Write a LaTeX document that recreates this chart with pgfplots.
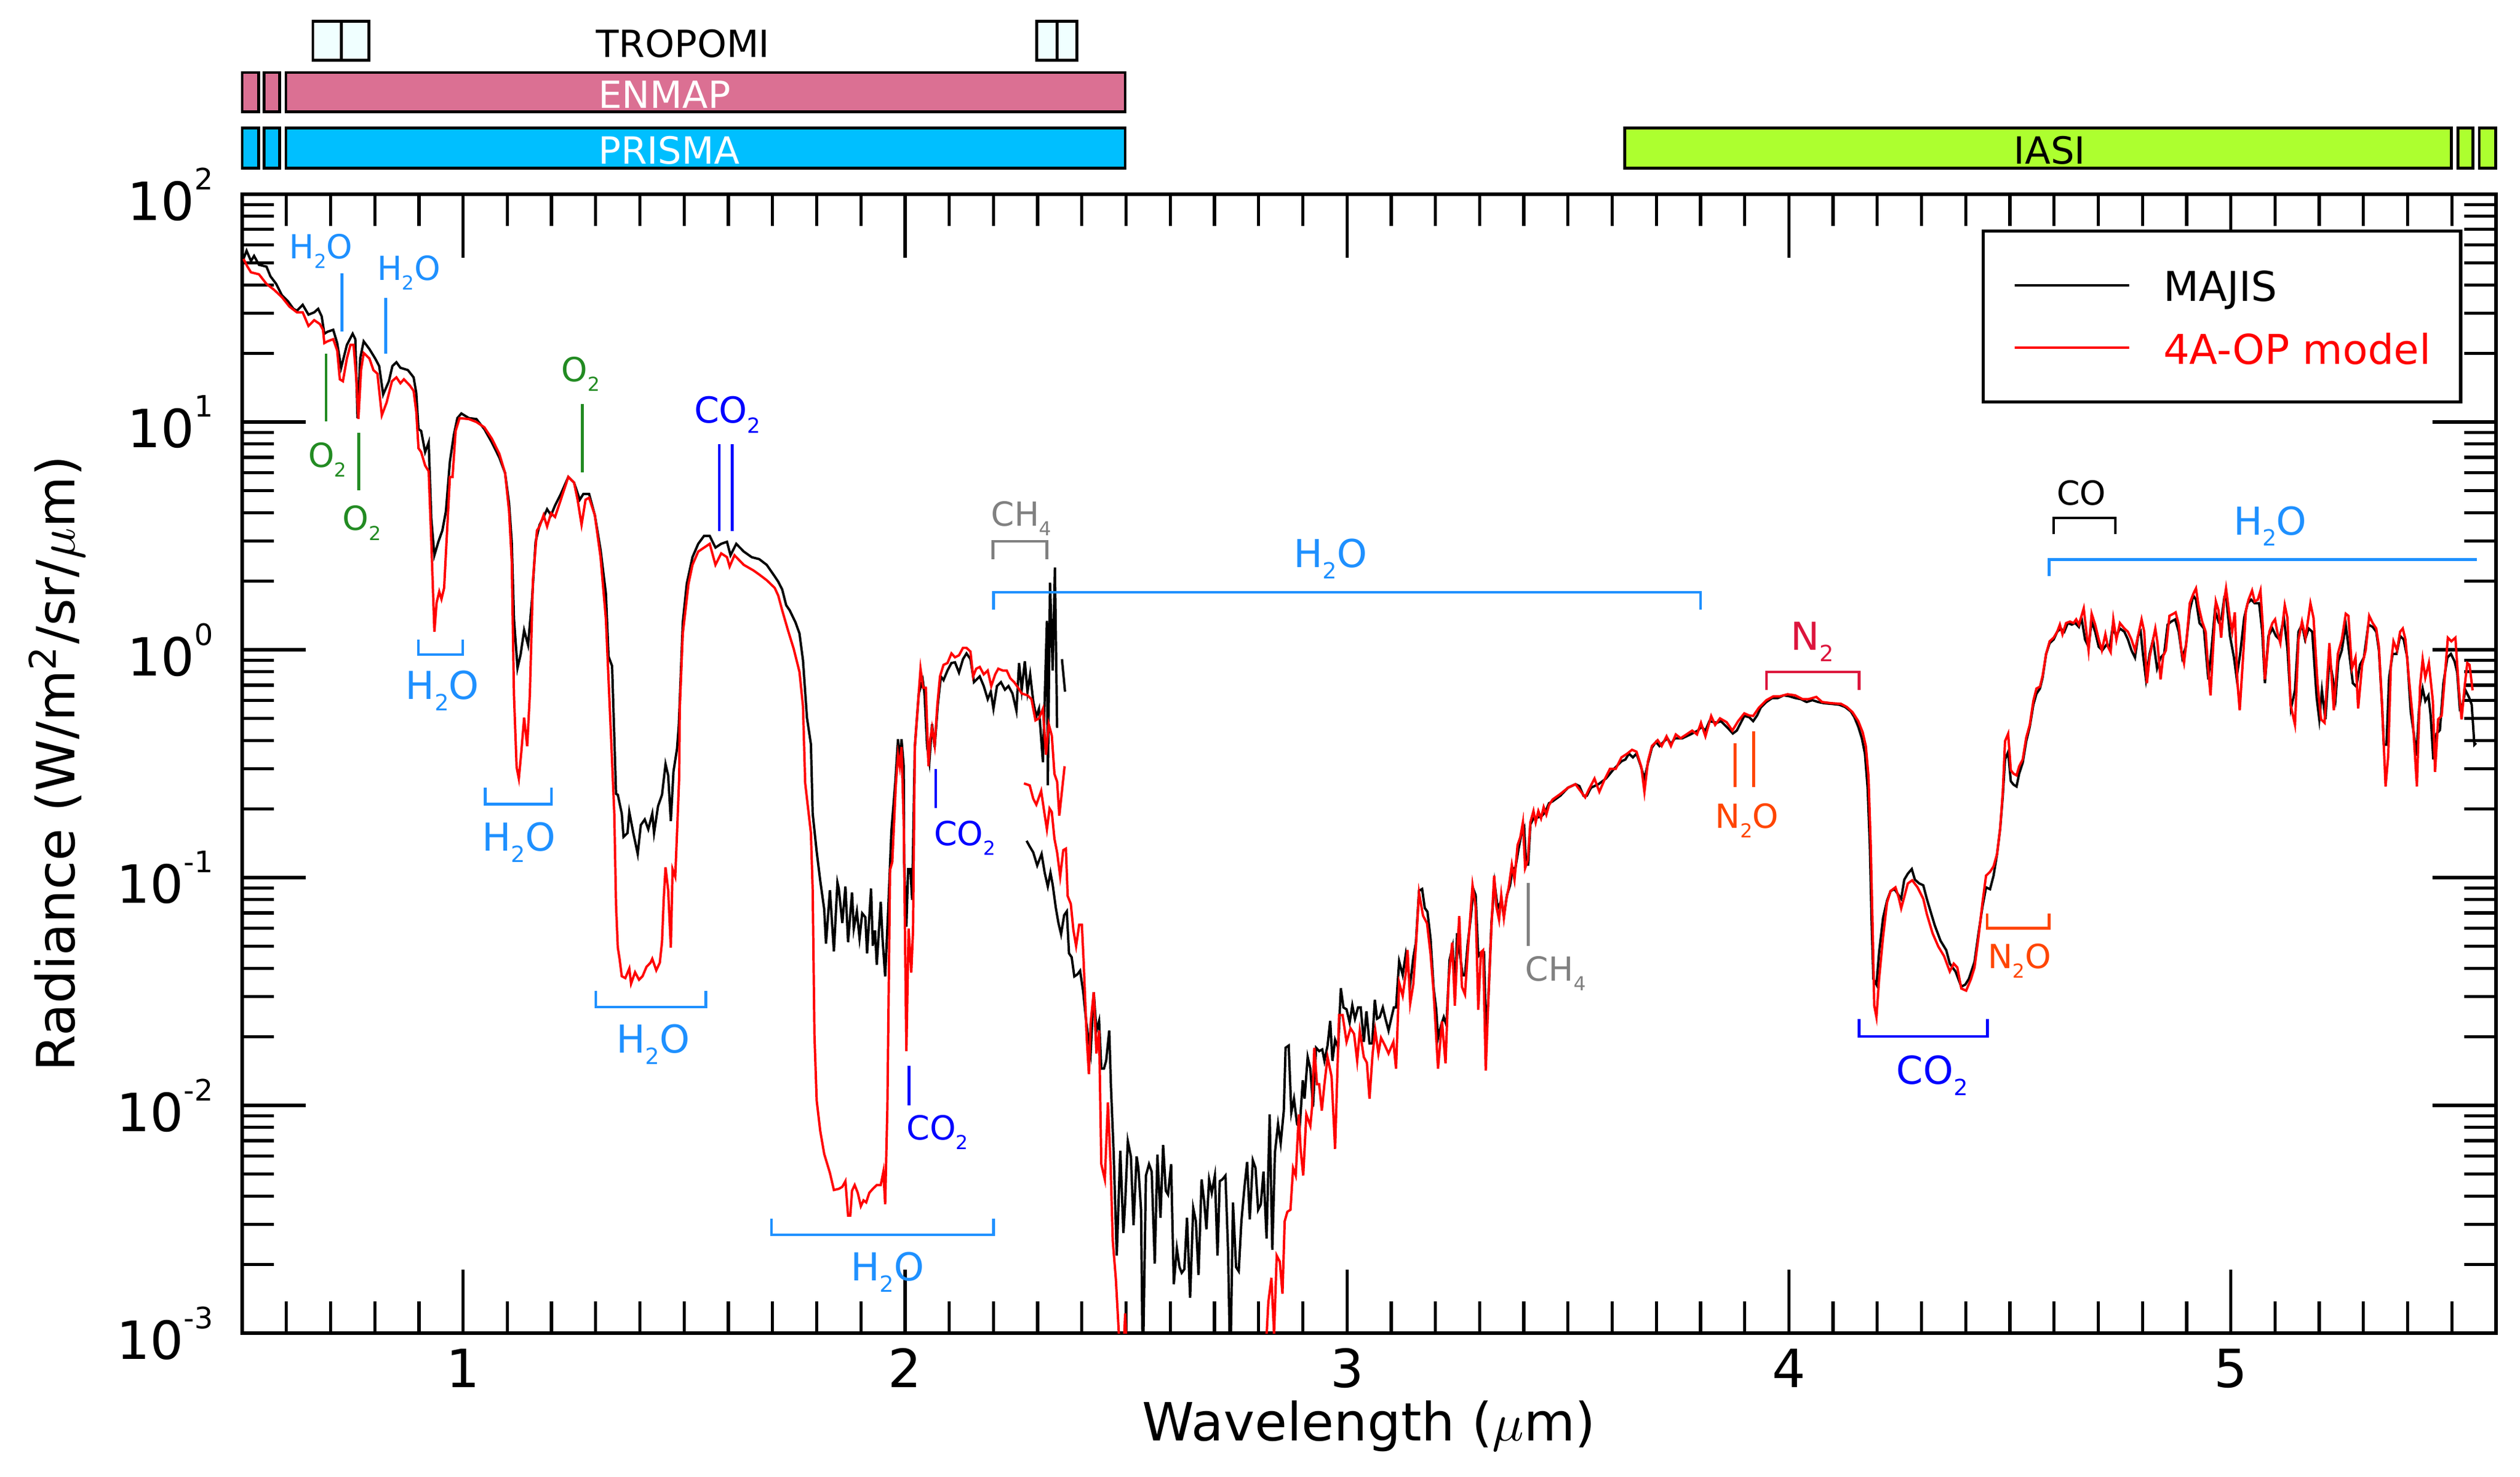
\documentclass[border=0pt]{standalone}
\usepackage{pgfplots}
\pgfplotsset{compat=1.18}
\usepackage{graphicx}
\usepackage{fontspec}
\setmainfont{DejaVu Sans}
\definecolor{h2o}{RGB}{30,144,255}
\definecolor{o2}{RGB}{34,139,34}
\definecolor{co2}{RGB}{0,0,255}
\definecolor{ch4}{RGB}{128,128,128}
\definecolor{n2o}{RGB}{255,69,0}
\definecolor{n2}{RGB}{220,20,60}
\definecolor{enmap}{RGB}{219,112,147}
\definecolor{prisma}{RGB}{0,191,255}
\definecolor{iasi}{RGB}{173,255,47}
\definecolor{tropomi}{RGB}{240,255,255}
\newcommand{\fs}{\fontsize{6.3}{7}\selectfont}
\newcommand{\fm}{\fontsize{6.8}{7.5}\selectfont}
\newcommand{\fl}{\fontsize{7.3}{8}\selectfont}
\newcommand{\sub}[1]{\raisebox{-0.29em}{\scalebox{0.58}{#1}}}
\newcommand{\tp}[1]{10\raisebox{5.8pt}{\fontsize{5.6}{6}\selectfont#1}}
\begin{document}
\begin{tikzpicture}
\begin{axis}[
  at={(0,0)}, anchor=south west,
  scale only axis, width=15.04cm, height=7.6cm,
  xmin=0.5, xmax=5.6, ymode=log, ymin=1e-3, ymax=1e2,
  unbounded coords=jump,
  xtick={1,2,3,4,5}, xticklabels={1,2,3,4,5},
  minor xtick={0.6,0.7,0.8,0.9,1.1,1.2,1.3,1.4,1.5,1.6,1.7,1.8,1.9,2.1,2.2,2.3,2.4,2.5,2.6,2.7,2.8,2.9,3.1,3.2,3.3,3.4,3.5,3.6,3.7,3.8,3.9,4.1,4.2,4.3,4.4,4.5,4.6,4.7,4.8,4.9,5.1,5.2,5.3,5.4,5.5},
  ytick={1e-3,1e-2,1e-1,1,10,100},
  yticklabels={\tp{-3},\tp{-2},\tp{-1},\tp{0},\tp{1},\tp{2}},
  tick align=inside,
  major tick length=0.424cm, minor tick length=0.212cm,
  every tick/.style={line width=0.6pt, black},
  axis line style={line width=0.7pt},
  tick label style={font=\fontsize{10}{12}\selectfont},
  xticklabel style={anchor=base, yshift=-0.36cm},
  yticklabel style={xshift=-0.07cm},
  xlabel={Wavelength ($\mu$m)},
  ylabel={Radiance (W/m\textsuperscript{2}/sr/$\mu$m)},
  label style={font=\fontsize{10}{12}\selectfont},
  every axis x label/.style={at={(axis description cs:0.5,-0.0947)}, anchor=base},
  every axis y label/.style={at={(axis description cs:-0.0742,0.5)}, rotate=90, anchor=base},
  legend style={at={(axis description cs:0.7718,0.9689)}, anchor=north west, draw=black, line width=0.6pt, fill=white,
    inner xsep=0.2cm, inner ysep=0.226cm, row sep=0.146cm, column sep=0.22cm,
    font=\fontsize{7.8}{9}\selectfont,
    nodes={inner sep=0pt, text height=6.9pt, text depth=0.8pt}},
  legend cell align=left,
  legend image code/.code={\draw[#1, line width=0.5pt] (0cm,0cm) -- (0.764cm,0cm);},
  after end axis/.code={
    % instrument bars
    \draw[fill=tropomi, line width=0.55pt] (axis cs:0.660,388) rectangle (axis cs:0.724,573);
    \draw[fill=tropomi, line width=0.55pt] (axis cs:0.724,388) rectangle (axis cs:0.787,573);
    \draw[fill=tropomi, line width=0.55pt] (axis cs:2.298,388) rectangle (axis cs:2.344,573);
    \draw[fill=tropomi, line width=0.55pt] (axis cs:2.344,388) rectangle (axis cs:2.389,573);
    \node[anchor=base west, inner sep=0pt, font=\fontsize{7.1}{8}\selectfont] at (axis cs:1.299,399) {TROPOMI};
    \draw[fill=enmap, line width=0.55pt] (axis cs:0.500,230) rectangle (axis cs:0.537,342);
    \draw[fill=enmap, line width=0.55pt] (axis cs:0.550,230) rectangle (axis cs:0.585,342);
    \draw[fill=enmap, line width=0.55pt] (axis cs:0.599,230) rectangle (axis cs:2.498,342);
    \node[anchor=base west, inner sep=0pt, text=white, font=\fontsize{7.1}{8}\selectfont] at (axis cs:1.304,238.3) {ENMAP};
    \draw[fill=prisma, line width=0.55pt] (axis cs:0.500,130) rectangle (axis cs:0.537,195);
    \draw[fill=prisma, line width=0.55pt] (axis cs:0.550,130) rectangle (axis cs:0.585,195);
    \draw[fill=prisma, line width=0.55pt] (axis cs:0.599,130) rectangle (axis cs:2.498,195);
    \node[anchor=base west, inner sep=0pt, text=white, font=\fontsize{7.1}{8}\selectfont] at (axis cs:1.304,136.2) {PRISMA};
    \draw[fill=iasi, line width=0.55pt] (axis cs:3.629,130) rectangle (axis cs:5.499,195);
    \draw[fill=iasi, line width=0.55pt] (axis cs:5.514,130) rectangle (axis cs:5.548,195);
    \draw[fill=iasi, line width=0.55pt] (axis cs:5.562,130) rectangle (axis cs:5.599,195);
    \node[anchor=base west, inner sep=0pt, font=\fontsize{7.1}{8}\selectfont] at (axis cs:4.507,136.2) {IASI};
    % molecule annotations
    \begin{scope}[line width=0.5pt]
    \node[anchor=base, inner sep=0pt, text=h2o, font=\fs] at (axis cs:0.678,52.0) {H\sub{2}O};
    \draw[h2o] (axis cs:0.726,44.9) -- (axis cs:0.726,24.9);
    \node[anchor=base, inner sep=0pt, text=h2o, font=\fs] at (axis cs:0.877,42.0) {H\sub{2}O};
    \draw[h2o] (axis cs:0.825,35.0) -- (axis cs:0.825,19.9);
    \draw[o2] (axis cs:0.690,19.9) -- (axis cs:0.690,10.05);
    \node[anchor=base, inner sep=0pt, text=o2, font=\fs] at (axis cs:0.693,6.32) {O\sub{2}};
    \draw[o2] (axis cs:0.764,8.95) -- (axis cs:0.764,5.01);
    \node[anchor=base, inner sep=0pt, text=o2, font=\fs] at (axis cs:0.771,3.34) {O\sub{2}};
    \draw[o2] (axis cs:1.270,11.97) -- (axis cs:1.270,6.01);
    \node[anchor=base, inner sep=0pt, text=o2, font=\fs] at (axis cs:1.266,15.1) {O\sub{2}};
    \draw[co2] (axis cs:1.580,7.98) -- (axis cs:1.580,3.32);
    \draw[co2] (axis cs:1.609,7.98) -- (axis cs:1.609,3.32);
    \node[anchor=base, inner sep=0pt, text=co2, font=\fm] at (axis cs:1.598,9.93) {CO\sub{2}};
    \draw[h2o] (axis cs:0.899,1.11) -- (axis cs:0.899,0.953) -- (axis cs:0.999,0.953) -- (axis cs:0.999,1.11);
    \node[anchor=base, inner sep=0pt, text=h2o, font=\fl] at (axis cs:0.953,0.607) {H\sub{2}O};
    \draw[h2o] (axis cs:1.050,0.248) -- (axis cs:1.050,0.210) -- (axis cs:1.200,0.210) -- (axis cs:1.200,0.248);
    \node[anchor=base, inner sep=0pt, text=h2o, font=\fl] at (axis cs:1.126,0.131) {H\sub{2}O};
    \draw[h2o] (axis cs:1.300,0.0319) -- (axis cs:1.300,0.0270) -- (axis cs:1.549,0.0270) -- (axis cs:1.549,0.0319);
    \node[anchor=base, inner sep=0pt, text=h2o, font=\fl] at (axis cs:1.430,0.0170) {H\sub{2}O};
    \draw[h2o] (axis cs:1.698,0.00318) -- (axis cs:1.698,0.00270) -- (axis cs:2.200,0.00270) -- (axis cs:2.200,0.00318);
    \node[anchor=base, inner sep=0pt, text=h2o, font=\fl] at (axis cs:1.960,0.00170) {H\sub{2}O};
    \draw[co2] (axis cs:2.009,0.01493) -- (axis cs:2.009,0.00998);
    \node[anchor=base, inner sep=0pt, text=co2, font=\fs] at (axis cs:2.073,0.00705) {CO\sub{2}};
    \draw[co2] (axis cs:2.069,0.299) -- (axis cs:2.069,0.202);
    \node[anchor=base, inner sep=0pt, text=co2, font=\fs] at (axis cs:2.135,0.138) {CO\sub{2}};
    \draw[ch4] (axis cs:2.199,2.50) -- (axis cs:2.199,2.99) -- (axis cs:2.321,2.99) -- (axis cs:2.321,2.50);
    \node[anchor=base, inner sep=0pt, text=ch4, font=\fs] at (axis cs:2.263,3.49) {CH\sub{4}};
    \draw[h2o] (axis cs:2.200,1.50) -- (axis cs:2.200,1.79) -- (axis cs:3.800,1.79) -- (axis cs:3.800,1.50);
    \node[anchor=base, inner sep=0pt, text=h2o, font=\fl] at (axis cs:2.963,2.30) {H\sub{2}O};
    \draw[ch4] (axis cs:3.410,0.0948) -- (axis cs:3.410,0.0502);
    \node[anchor=base, inner sep=0pt, text=ch4, font=\fs] at (axis cs:3.472,0.0352) {CH\sub{4}};
    \draw[n2o] (axis cs:3.878,0.389) -- (axis cs:3.878,0.249);
    \draw[n2o] (axis cs:3.920,0.438) -- (axis cs:3.920,0.249);
    \node[anchor=base, inner sep=0pt, text=n2o, font=\fs] at (axis cs:3.905,0.165) {N\sub{2}O};
    \draw[n2] (axis cs:3.949,0.668) -- (axis cs:3.949,0.798) -- (axis cs:4.159,0.798) -- (axis cs:4.159,0.668);
    \node[anchor=base, inner sep=0pt, text=n2, font=\fl] at (axis cs:4.053,0.995) {N\sub{2}};
    \draw[co2] (axis cs:4.159,0.0239) -- (axis cs:4.159,0.0201) -- (axis cs:4.449,0.0201) -- (axis cs:4.449,0.0239);
    \node[anchor=base, inner sep=0pt, text=co2, font=\fl] at (axis cs:4.324,0.0124) {CO\sub{2}};
    \draw[n2o] (axis cs:4.448,0.0695) -- (axis cs:4.448,0.0600) -- (axis cs:4.589,0.0600) -- (axis cs:4.589,0.0695);
    \node[anchor=base, inner sep=0pt, text=n2o, font=\fs] at (axis cs:4.522,0.0400) {N\sub{2}O};
    \draw[black] (axis cs:4.599,3.22) -- (axis cs:4.599,3.80) -- (axis cs:4.739,3.80) -- (axis cs:4.739,3.22);
    \node[anchor=base, inner sep=0pt, text=black, font=\fs] at (axis cs:4.662,4.33) {CO};
    \draw[h2o] (axis cs:4.589,2.11) -- (axis cs:4.589,2.49) -- (axis cs:5.557,2.49);
    \node[anchor=base, inner sep=0pt, text=h2o, font=\fl] at (axis cs:5.089,3.20) {H\sub{2}O};
    \end{scope}
  },
]
% MAJIS VIS-NIR channel
\addplot[black, line width=0.45pt] coordinates {
(0.503,52.0)(0.510,56.5)(0.520,50.9)(0.527,53.6)(0.538,49.0)(0.555,48.1)(0.564,43.6)(0.577,40.4)(0.590,36.0)(0.603,34.0)(0.616,31.4)(0.624,30.8)(0.637,32.7)(0.650,29.6)(0.663,30.3)(0.672,31.4)(0.680,29.1)(0.686,24.4)(0.693,24.9)(0.706,25.4)(0.715,22.2)(0.724,17.3)(0.737,21.8)(0.750,24.4)(0.756,23.1)(0.761,10.4)(0.767,19.0)(0.775,22.6)(0.788,20.9)(0.801,19.0)(0.810,17.6)(0.819,13.2)(0.832,15.1)(0.840,17.6)(0.849,18.3)(0.858,17.3)(0.875,16.9)(0.888,15.7)(0.894,13.4)(0.899,9.31)(0.905,9.14)(0.914,7.38)(0.922,8.13)(0.928,3.76)(0.935,2.60)(0.944,2.98)(0.953,3.34)(0.961,4.06)(0.970,6.70)(0.979,8.79)(0.987,10.4)(0.996,10.9)(1.013,10.4)(1.030,10.3)(1.048,9.31)(1.065,8.13)(1.082,6.97)(1.095,5.97)(1.104,4.39)(1.110,2.98)(1.115,1.37)(1.123,0.832)(1.130,0.953)(1.138,1.22)(1.147,1.05)(1.156,1.67)(1.164,2.98)(1.173,3.54)(1.182,3.83)(1.190,4.14)(1.199,3.90)(1.208,4.30)(1.221,4.83)(1.238,5.74)(1.251,5.42)(1.264,4.56)(1.272,4.83)(1.285,4.83)(1.298,3.90)(1.311,2.75)(1.323,1.77)(1.329,0.935)(1.337,0.849)(1.346,0.233)(1.350,0.231)(1.359,0.191)(1.363,0.151)(1.372,0.157)(1.376,0.194)(1.385,0.157)(1.395,0.127)(1.402,0.170)(1.411,0.180)(1.419,0.163)(1.428,0.191)(1.432,0.157)(1.441,0.206)(1.450,0.231)(1.458,0.315)(1.464,0.281)(1.470,0.177)(1.476,0.292)(1.484,0.368)(1.488,0.467)(1.497,1.32)(1.506,1.95)(1.519,2.55)(1.532,2.92)(1.545,3.16)(1.558,3.16)(1.571,2.81)(1.584,2.92)(1.597,2.98)(1.605,2.60)(1.618,2.92)(1.635,2.70)(1.653,2.55)(1.670,2.50)(1.687,2.36)(1.705,2.10)(1.713,1.99)(1.722,1.84)(1.731,1.57)(1.739,1.49)(1.752,1.32)(1.761,1.18)(1.769,0.899)(1.778,0.504)(1.787,0.385)(1.791,0.191)(1.800,0.130)(1.808,0.0970)(1.817,0.0726)(1.821,0.0513)(1.830,0.0881)(1.839,0.0474)(1.847,0.0951)(1.850,0.0895)(1.858,0.0632)(1.865,0.0914)(1.871,0.0521)(1.880,0.0861)(1.884,0.0597)(1.891,0.0711)(1.897,0.0542)(1.903,0.0697)(1.910,0.0670)(1.914,0.0465)(1.923,0.0895)(1.927,0.0502)(1.932,0.0586)(1.936,0.0414)(1.945,0.0783)(1.949,0.0542)(1.955,0.0368)(1.962,0.0738)(1.969,0.160)(1.978,0.264)(1.984,0.405)(1.988,0.321)(1.992,0.405)(1.997,0.308)(1.998,0.117)(2.003,0.0608)(2.007,0.109)(2.012,0.109)(2.016,0.0798)(2.022,0.374)(2.031,0.643)(2.040,0.736)(2.044,0.643)(2.050,0.374)(2.055,0.321)(2.061,0.472)(2.067,0.374)(2.074,0.573)(2.081,0.764)(2.087,0.736)(2.096,0.811)(2.105,0.875)(2.113,0.881)(2.122,0.794)(2.131,0.910)(2.139,0.964)(2.148,0.910)(2.156,0.721)(2.169,0.764)(2.178,0.693)(2.187,0.607)(2.194,0.655)(2.200,0.551)(2.208,0.693)(2.217,0.721)(2.226,0.668)(2.234,0.693)(2.243,0.643)(2.252,0.540)(2.258,0.875)(2.264,0.668)(2.271,0.891)(2.277,0.655)(2.283,0.780)(2.290,0.594)(2.297,0.509)(2.303,0.551)(2.312,0.321)(2.321,1.34)(2.323,0.254)(2.328,1.97)(2.334,0.811)(2.339,2.30)(2.344,0.454)(2.350,nan)(2.355,0.910)(2.362,0.655)
};
\addlegendentry{MAJIS}
% model, VIS-NIR
\addplot[red, line width=0.45pt] coordinates {
(0.503,52.0)(0.512,48.1)(0.520,45.4)(0.538,44.5)(0.555,40.4)(0.572,38.1)(0.590,35.3)(0.607,32.1)(0.624,30.3)(0.637,30.3)(0.650,26.4)(0.663,28.0)(0.676,26.9)(0.683,25.4)(0.686,22.2)(0.693,22.6)(0.706,23.1)(0.715,20.6)(0.721,15.4)(0.728,15.1)(0.737,19.0)(0.745,21.8)(0.752,21.8)(0.758,15.7)(0.763,10.3)(0.769,16.9)(0.775,20.1)(0.788,19.0)(0.797,16.9)(0.806,16.3)(0.816,10.7)(0.827,12.2)(0.839,15.1)(0.849,15.7)(0.858,14.8)(0.866,15.4)(0.879,14.5)(0.888,13.7)(0.894,11.1)(0.899,7.67)(0.905,7.38)(0.914,6.44)(0.922,6.08)(0.928,2.98)(0.935,1.20)(0.940,1.61)(0.946,1.80)(0.951,1.67)(0.957,1.87)(0.961,2.65)(0.970,5.74)(0.976,5.74)(0.983,9.14)(0.992,10.4)(1.013,10.3)(1.030,10.0)(1.048,9.48)(1.065,8.45)(1.082,7.24)(1.095,5.97)(1.104,4.06)(1.110,2.45)(1.115,0.635)(1.121,0.305)(1.126,0.272)(1.132,0.363)(1.138,0.504)(1.145,0.377)(1.151,0.635)(1.158,2.02)(1.167,3.34)(1.173,3.48)(1.182,3.90)(1.190,3.48)(1.199,3.98)(1.208,3.83)(1.221,4.56)(1.238,5.74)(1.251,5.42)(1.259,4.56)(1.268,3.54)(1.277,4.56)(1.285,4.65)(1.298,3.90)(1.311,2.55)(1.323,1.37)(1.329,0.741)(1.335,0.399)(1.342,0.191)(1.346,0.0755)(1.350,0.0493)(1.354,0.0440)(1.359,0.0369)(1.367,0.0362)(1.376,0.0399)(1.380,0.0342)(1.389,0.0384)(1.398,0.0356)(1.406,0.0369)(1.415,0.0406)(1.424,0.0423)(1.428,0.0440)(1.437,0.0392)(1.445,0.0423)(1.450,0.0522)(1.454,0.0815)(1.458,0.111)(1.464,0.0881)(1.470,0.0493)(1.474,0.109)(1.480,0.101)(1.484,0.157)(1.489,0.281)(1.490,0.544)(1.497,1.18)(1.510,1.95)(1.519,2.36)(1.532,2.70)(1.558,2.92)(1.571,2.36)(1.584,2.65)(1.597,2.55)(1.603,2.32)(1.614,2.60)(1.635,2.36)(1.657,2.23)(1.670,2.14)(1.687,2.02)(1.705,1.87)(1.713,1.73)(1.722,1.49)(1.735,1.22)(1.748,1.01)(1.761,0.800)(1.769,0.565)(1.774,0.260)(1.787,0.157)(1.791,0.0881)(1.795,0.0203)(1.800,0.0105)(1.808,0.00773)(1.817,0.00612)(1.830,0.00505)(1.839,0.00425)(1.850,0.00430)(1.858,0.00439)(1.865,0.00465)(1.871,0.00328)(1.876,0.00328)(1.880,0.00422)(1.886,0.00447)(1.893,0.00413)(1.900,0.00361)(1.906,0.00383)(1.912,0.00375)(1.919,0.00413)(1.927,0.00430)(1.936,0.00447)(1.945,0.00447)(1.951,0.00512)(1.955,0.00368)(1.960,0.00986)(1.966,0.108)(1.971,0.117)(1.979,0.254)(1.984,0.346)(1.988,0.308)(1.992,0.374)(1.997,0.173)(2.003,0.0173)(2.008,0.0597)(2.014,0.0383)(2.018,0.0586)(2.022,0.374)(2.035,0.826)(2.041,0.681)(2.047,0.681)(2.053,0.308)(2.057,0.405)(2.061,0.454)(2.067,0.381)(2.073,0.573)(2.079,0.764)(2.087,0.859)(2.096,0.875)(2.105,0.964)(2.113,0.927)(2.122,0.946)(2.131,1.02)(2.139,1.02)(2.148,0.982)(2.154,0.764)(2.161,0.826)(2.169,0.841)(2.178,0.780)(2.187,0.811)(2.195,0.693)(2.204,0.780)(2.211,0.826)(2.221,0.811)(2.230,0.811)(2.238,0.750)(2.247,0.721)(2.256,0.681)(2.264,0.643)(2.277,0.631)(2.286,0.607)(2.295,0.490)(2.303,0.500)(2.312,0.551)(2.319,0.346)(2.325,0.472)(2.332,0.420)(2.338,0.285)(2.344,0.264)(2.349,0.187)(2.361,0.308)
};
\addlegendentry{\textcolor{red}{4A-OP model}}
% MAJIS IR channel
\addplot[black, line width=0.45pt, forget plot] coordinates {
(2.275,0.145)(2.282,0.137)(2.290,0.129)(2.299,0.113)(2.309,0.127)(2.316,0.105)(2.323,0.0914)(2.329,0.105)(2.334,0.0931)(2.341,0.0738)(2.347,0.0632)(2.353,0.0564)(2.360,0.0684)(2.366,0.0711)(2.371,0.0465)(2.377,0.0447)(2.383,0.0368)(2.390,0.0376)(2.396,0.0390)(2.403,0.0316)(2.410,0.0232)(2.416,0.0191)(2.420,0.0170)(2.427,0.0314)(2.433,0.0213)(2.439,0.0235)(2.444,0.0145)(2.450,0.0145)(2.455,0.0157)(2.462,0.0213)(2.466,0.0120)(2.472,0.00621)(2.479,0.00219)(2.487,0.00632)(2.494,0.00275)(2.498,0.00375)(2.504,0.00697)(2.511,0.00597)(2.517,0.00298)(2.524,0.00597)(2.528,0.00531)(2.534,0.00348)(2.538,0.00066)(2.545,0.00492)(2.552,0.00552)(2.558,0.00512)(2.565,0.00202)(2.571,0.00608)(2.578,0.00321)(2.584,0.00670)(2.590,0.00422)(2.595,0.00406)(2.602,0.00552)(2.608,0.00164)(2.615,0.00236)(2.621,0.00195)(2.626,0.00184)(2.632,0.00191)(2.638,0.00321)(2.645,0.00143)(2.652,0.00354)(2.658,0.00310)(2.664,0.00180)(2.671,0.00473)(2.677,0.00375)(2.682,0.00286)(2.688,0.00473)(2.694,0.00413)(2.701,0.00492)(2.707,0.00219)(2.712,0.00465)(2.718,0.00473)(2.725,0.00492)(2.731,0.00227)(2.736,0.00066)(2.742,0.00375)(2.749,0.00195)(2.755,0.00187)(2.761,0.00310)(2.768,0.00439)(2.774,0.00564)(2.780,0.00316)(2.787,0.00574)(2.793,0.00531)(2.799,0.00348)(2.805,0.00368)(2.811,0.00512)(2.818,0.00260)(2.825,0.00912)(2.831,0.00232)(2.837,0.00621)(2.844,0.00828)(2.850,0.00682)(2.857,0.00948)(2.861,0.0179)(2.868,0.0183)(2.874,0.00931)(2.880,0.0107)(2.887,0.00828)(2.893,0.00798)(2.900,0.0129)(2.904,0.0107)(2.911,0.0163)(2.917,0.0145)(2.923,0.00986)(2.930,0.0179)(2.937,0.0173)(2.944,0.0176)(2.949,0.0157)(2.956,0.0183)(2.962,0.0235)(2.967,0.0157)(2.973,0.0194)(2.980,0.0179)(2.986,0.0327)(2.992,0.0269)(2.999,0.0264)(3.006,0.0231)(3.012,0.0275)(3.018,0.0240)(3.025,0.0269)(3.031,0.0269)(3.038,0.0190)(3.044,0.0259)(3.051,0.0187)(3.057,0.0187)(3.063,0.0291)(3.068,0.0240)(3.074,0.0244)(3.081,0.0269)(3.087,0.0240)(3.094,0.0213)(3.100,0.0240)(3.106,0.0269)(3.111,0.0269)(3.118,0.0429)(3.126,0.0374)(3.133,0.0462)(3.137,0.0412)(3.143,0.0340)(3.150,0.0445)(3.156,0.0519)(3.163,0.0875)(3.170,0.0891)(3.176,0.0735)(3.182,0.0708)(3.189,0.0540)(3.196,0.0327)(3.202,0.0263)(3.206,0.0197)(3.213,0.0225)(3.219,0.0244)(3.225,0.0225)(3.232,0.0435)(3.239,0.0498)(3.245,0.0326)(3.249,0.0570)(3.256,0.0452)(3.262,0.0372)(3.267,0.0372)(3.273,0.0508)(3.280,0.0665)(3.286,0.0889)(3.291,0.0838)(3.297,0.0452)(3.303,0.0470)(3.310,0.0470)(3.315,0.0201)(3.320,0.0296)(3.327,0.0640)(3.334,0.0942)(3.341,0.0733)(3.349,0.0792)(3.355,0.0678)(3.362,0.0838)(3.369,0.0925)(3.375,0.110)(3.381,0.110)(3.388,0.133)(3.394,0.153)(3.401,0.165)(3.405,0.114)(3.410,0.114)(3.415,0.171)(3.422,0.182)(3.439,0.185)(3.448,0.193)(3.457,0.212)(3.465,0.216)(3.483,0.229)(3.500,0.248)(3.517,0.257)(3.526,0.252)(3.535,0.229)(3.543,0.229)(3.552,0.248)(3.569,0.257)(3.586,0.272)(3.604,0.300)(3.621,0.324)(3.630,0.330)(3.638,0.350)(3.647,0.337)(3.655,0.350)(3.664,0.312)(3.673,0.272)(3.681,0.318)(3.690,0.372)(3.699,0.394)(3.707,0.378)(3.716,0.394)(3.725,0.409)(3.733,0.386)(3.742,0.409)(3.759,0.409)(3.777,0.425)(3.794,0.442)(3.802,0.459)(3.811,0.442)(3.820,0.486)(3.837,0.478)(3.846,0.486)(3.863,0.451)(3.873,0.429)(3.882,0.442)(3.891,0.478)(3.899,0.512)(3.910,0.506)(3.919,0.486)(3.928,0.515)(3.936,0.557)(3.949,0.590)(3.962,0.614)(3.975,0.614)(3.988,0.631)(4.001,0.625)(4.014,0.614)(4.027,0.607)(4.040,0.590)(4.053,0.601)(4.066,0.590)(4.079,0.583)(4.096,0.579)(4.114,0.574)(4.127,0.561)(4.140,0.536)(4.148,0.506)(4.157,0.459)(4.165,0.409)(4.172,0.350)(4.178,0.248)(4.183,0.139)(4.187,0.0640)(4.191,0.0359)(4.198,0.0339)(4.204,0.0470)(4.213,0.0665)(4.222,0.0792)(4.230,0.0873)(4.239,0.0889)(4.248,0.0838)(4.254,0.0807)(4.261,0.0979)(4.269,0.104)(4.278,0.109)(4.285,0.0979)(4.295,0.0942)(4.304,0.0925)(4.312,0.0807)(4.321,0.0705)(4.330,0.0617)(4.343,0.0528)(4.356,0.0480)(4.364,0.0419)(4.377,0.0387)(4.390,0.0332)(4.399,0.0339)(4.407,0.0359)(4.420,0.0427)(4.429,0.0570)(4.438,0.0746)(4.446,0.0906)(4.455,0.0889)(4.463,0.102)(4.471,0.127)(4.478,0.164)(4.484,0.229)(4.489,0.330)(4.496,0.356)(4.502,0.265)(4.508,0.256)(4.515,0.251)(4.521,0.286)(4.529,0.319)(4.537,0.397)(4.545,0.460)(4.553,0.574)(4.560,0.641)(4.568,0.676)(4.574,0.755)(4.582,0.959)(4.590,1.07)(4.599,1.11)(4.607,1.20)(4.615,1.24)(4.623,1.20)(4.631,1.31)(4.640,1.29)(4.648,1.31)(4.656,1.26)(4.662,1.38)(4.670,1.11)(4.678,1.03)(4.685,1.33)(4.693,1.20)(4.701,1.03)(4.709,0.995)(4.718,1.05)(4.726,1.03)(4.732,1.24)(4.741,1.15)(4.749,1.24)(4.759,1.20)(4.767,1.11)(4.775,0.995)(4.783,0.925)(4.790,1.15)(4.796,1.20)(4.801,0.959)(4.808,0.741)(4.816,0.959)(4.824,1.11)(4.833,0.828)(4.841,0.925)(4.849,0.959)(4.857,1.29)(4.865,1.33)(4.874,1.36)(4.882,1.20)(4.890,0.925)(4.898,1.03)(4.907,1.49)(4.915,1.73)(4.921,1.66)(4.929,1.31)(4.939,1.24)(4.949,0.741)(4.956,0.995)(4.964,1.49)(4.972,1.33)(4.979,1.38)(4.985,1.69)(4.990,1.66)(4.998,1.15)(5.007,0.925)(5.013,0.755)(5.021,0.959)(5.030,1.38)(5.038,1.60)(5.046,1.66)(5.054,1.60)(5.064,1.60)(5.071,1.20)(5.077,0.714)(5.085,1.15)(5.094,1.24)(5.102,1.15)(5.110,1.11)(5.120,1.38)(5.128,1.01)(5.136,0.553)(5.145,0.664)(5.153,1.20)(5.161,1.29)(5.168,1.11)(5.176,1.24)(5.184,1.20)(5.194,0.618)(5.200,0.495)(5.206,0.664)(5.214,0.495)(5.223,0.925)(5.231,0.741)(5.237,0.618)(5.243,0.891)(5.251,0.995)(5.260,1.29)(5.268,0.959)(5.276,0.714)(5.284,0.689)(5.292,0.859)(5.301,0.925)(5.311,1.29)(5.321,1.26)(5.329,1.20)(5.335,0.995)(5.342,0.574)(5.346,0.383)(5.352,0.383)(5.358,0.755)(5.366,0.959)(5.375,0.959)(5.383,1.15)(5.391,1.11)(5.399,0.925)(5.407,0.533)(5.414,0.428)(5.420,0.343)(5.426,0.553)(5.434,0.676)(5.440,0.596)(5.447,0.630)(5.452,0.514)(5.458,0.330)(5.465,0.428)(5.473,0.444)(5.481,0.714)(5.490,0.925)(5.498,0.959)(5.506,0.891)(5.512,0.798)(5.518,0.553)(5.524,0.574)(5.531,0.664)(5.539,0.618)(5.545,0.574)(5.551,0.383)(5.555,0.390)
};
% model, IR
\addplot[red, line width=0.45pt, forget plot] coordinates {
(2.269,0.259)(2.282,0.254)(2.290,0.222)(2.297,0.209)(2.308,0.240)(2.315,0.194)(2.321,0.163)(2.327,0.201)(2.332,0.194)(2.338,0.148)(2.344,0.129)(2.351,0.101)(2.358,0.132)(2.364,0.134)(2.368,0.0830)(2.375,0.0767)(2.381,0.0586)(2.387,0.0501)(2.394,0.0621)(2.400,0.0621)(2.404,0.0430)(2.411,0.0199)(2.416,0.0137)(2.420,0.0231)(2.427,0.0314)(2.433,0.0169)(2.439,0.0213)(2.444,0.00552)(2.452,0.00473)(2.459,0.0103)(2.465,0.00552)(2.470,0.00255)(2.477,0.00173)(2.485,0.00090)(2.491,0.0006)(2.498,0.00122)(2.505,0.0006)(2.550,0.0004)(2.650,0.0003)(2.750,0.0003)(2.810,0.0005)(2.822,0.00137)(2.829,0.00175)(2.835,0.00099)(2.841,0.00219)(2.848,0.00206)(2.854,0.00149)(2.859,0.00310)(2.865,0.00341)(2.872,0.00348)(2.878,0.00531)(2.884,0.00492)(2.891,0.00912)(2.895,0.00644)(2.901,0.00492)(2.908,0.00912)(2.917,0.00813)(2.921,0.00986)(2.926,0.0179)(2.932,0.0124)(2.937,0.0124)(2.943,0.00948)(2.949,0.0124)(2.956,0.0163)(2.965,0.0134)(2.973,0.00644)(2.982,0.0249)(2.990,0.0249)(2.999,0.0190)(3.008,0.0218)(3.016,0.0206)(3.023,0.0157)(3.029,0.0213)(3.038,0.0163)(3.045,0.0154)(3.051,0.0107)(3.058,0.0169)(3.064,0.0213)(3.071,0.0169)(3.077,0.0198)(3.086,0.0183)(3.094,0.0169)(3.105,0.0190)(3.111,0.0145)(3.118,0.0346)(3.126,0.0303)(3.133,0.0381)(3.137,0.0481)(3.143,0.0280)(3.150,0.0340)(3.156,0.0500)(3.163,0.0857)(3.172,0.0681)(3.181,0.0630)(3.189,0.0462)(3.196,0.0314)(3.206,0.0145)(3.215,0.0234)(3.223,0.0153)(3.230,0.0359)(3.238,0.0518)(3.244,0.0274)(3.249,0.0452)(3.254,0.0678)(3.260,0.0332)(3.267,0.0307)(3.275,0.0527)(3.284,0.0925)(3.291,0.0746)(3.297,0.0263)(3.303,0.0470)(3.308,0.0480)(3.314,0.0142)(3.320,0.0296)(3.327,0.0617)(3.333,0.102)(3.338,0.0746)(3.344,0.0653)(3.349,0.0838)(3.355,0.0665)(3.360,0.0792)(3.366,0.0906)(3.373,0.114)(3.379,0.0979)(3.386,0.139)(3.392,0.150)(3.398,0.175)(3.403,0.110)(3.409,0.119)(3.415,0.175)(3.422,0.196)(3.427,0.175)(3.433,0.196)(3.439,0.182)(3.445,0.204)(3.451,0.189)(3.457,0.208)(3.465,0.220)(3.483,0.233)(3.500,0.248)(3.517,0.257)(3.539,0.225)(3.547,0.243)(3.560,0.272)(3.571,0.238)(3.582,0.267)(3.595,0.300)(3.608,0.300)(3.621,0.337)(3.634,0.350)(3.645,0.364)(3.655,0.357)(3.666,0.306)(3.673,0.238)(3.681,0.324)(3.690,0.378)(3.703,0.401)(3.712,0.378)(3.723,0.417)(3.733,0.378)(3.744,0.425)(3.755,0.409)(3.768,0.425)(3.781,0.442)(3.792,0.425)(3.801,0.478)(3.811,0.417)(3.824,0.512)(3.833,0.468)(3.844,0.500)(3.859,0.481)(3.872,0.442)(3.885,0.486)(3.899,0.526)(3.910,0.515)(3.919,0.512)(3.932,0.557)(3.949,0.601)(3.965,0.625)(3.980,0.625)(3.997,0.638)(4.014,0.631)(4.031,0.607)(4.044,0.607)(4.062,0.621)(4.075,0.590)(4.096,0.583)(4.118,0.579)(4.131,0.561)(4.144,0.532)(4.157,0.486)(4.167,0.434)(4.174,0.378)(4.180,0.278)(4.185,0.139)(4.190,0.0527)(4.193,0.0274)(4.198,0.0244)(4.204,0.0359)(4.213,0.0548)(4.222,0.0777)(4.230,0.0873)(4.241,0.0906)(4.248,0.0822)(4.254,0.0733)(4.261,0.0822)(4.269,0.0942)(4.279,0.0973)(4.291,0.0906)(4.304,0.0807)(4.312,0.0692)(4.325,0.0570)(4.338,0.0498)(4.351,0.0452)(4.364,0.0387)(4.373,0.0419)(4.381,0.0403)(4.390,0.0326)(4.401,0.0319)(4.412,0.0359)(4.420,0.0403)(4.429,0.0548)(4.438,0.0777)(4.446,0.102)(4.455,0.106)(4.463,0.112)(4.471,0.127)(4.478,0.164)(4.484,0.238)(4.489,0.397)(4.496,0.428)(4.502,0.296)(4.508,0.286)(4.515,0.281)(4.521,0.308)(4.529,0.330)(4.537,0.412)(4.545,0.469)(4.553,0.596)(4.560,0.676)(4.568,0.689)(4.574,0.769)(4.582,0.959)(4.590,1.09)(4.599,1.13)(4.607,1.20)(4.613,1.29)(4.619,1.17)(4.627,1.31)(4.636,1.33)(4.644,1.31)(4.650,1.36)(4.656,1.29)(4.667,1.52)(4.673,1.20)(4.678,0.995)(4.685,1.44)(4.693,1.29)(4.701,1.11)(4.708,0.995)(4.716,1.17)(4.722,1.03)(4.728,0.977)(4.734,1.36)(4.741,1.11)(4.749,1.31)(4.759,1.24)(4.767,1.20)(4.775,1.11)(4.783,0.995)(4.792,1.20)(4.798,1.36)(4.804,1.20)(4.810,0.714)(4.816,0.925)(4.824,1.11)(4.829,1.24)(4.834,1.07)(4.841,0.741)(4.847,0.942)(4.853,0.995)(4.861,1.41)(4.870,1.44)(4.875,1.46)(4.882,1.29)(4.888,0.995)(4.894,0.875)(4.900,1.11)(4.907,1.60)(4.915,1.76)(4.921,1.86)(4.927,1.55)(4.935,1.33)(4.943,1.20)(4.948,0.859)(4.954,0.630)(4.960,1.03)(4.966,1.63)(4.972,1.49)(4.978,1.13)(4.985,1.66)(4.989,1.86)(4.997,1.41)(5.003,1.20)(5.009,1.46)(5.015,0.714)(5.020,0.543)(5.026,0.828)(5.034,1.49)(5.040,1.66)(5.048,1.82)(5.054,1.63)(5.061,1.66)(5.067,1.82)(5.072,1.29)(5.077,0.741)(5.087,1.20)(5.094,1.31)(5.100,1.36)(5.105,1.20)(5.112,1.07)(5.122,1.57)(5.128,1.38)(5.135,0.574)(5.145,0.469)(5.153,1.11)(5.161,1.33)(5.169,1.13)(5.180,1.60)(5.187,1.38)(5.196,0.714)(5.204,0.495)(5.212,0.478)(5.223,1.07)(5.233,0.543)(5.242,0.959)(5.251,1.11)(5.260,1.44)(5.266,1.41)(5.274,0.828)(5.282,0.925)(5.288,0.553)(5.297,0.859)(5.305,0.995)(5.313,1.41)(5.321,1.31)(5.329,1.24)(5.335,1.03)(5.342,0.574)(5.350,0.251)(5.356,0.343)(5.362,0.859)(5.368,1.09)(5.376,0.995)(5.383,1.20)(5.389,1.24)(5.395,1.11)(5.403,0.741)(5.411,0.514)(5.421,0.251)(5.428,0.689)(5.434,0.908)(5.440,0.755)(5.448,0.875)(5.457,0.596)(5.462,0.291)(5.469,0.495)(5.477,0.514)(5.483,0.714)(5.491,1.13)(5.499,1.09)(5.508,1.13)(5.516,0.664)(5.522,0.495)(5.529,0.689)(5.535,0.875)(5.540,0.859)(5.547,0.664)
};
\end{axis}
\pgfresetboundingbox
\path (-1.616cm,-0.956cm) rectangle (15.2cm,8.896cm);
\end{tikzpicture}
\end{document}
